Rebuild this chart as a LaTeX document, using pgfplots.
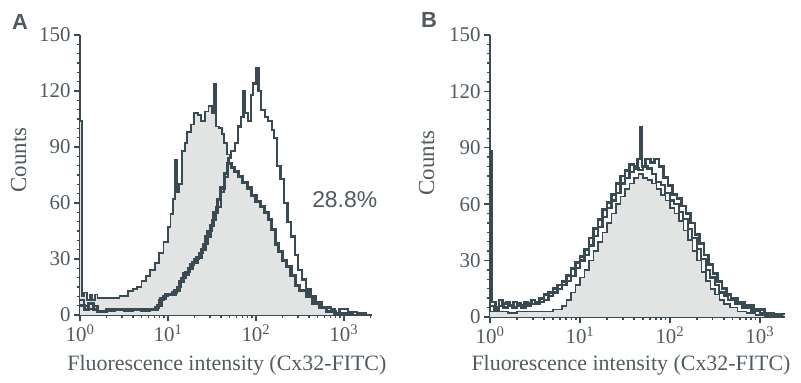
\documentclass[border=0pt]{standalone}
\usepackage{fontspec}
\setmainfont{Liberation Serif}
\newfontfamily\arialfont{Liberation Sans}
\usepackage{pgfplots}
\pgfplotsset{compat=1.18}
\usepackage{pgfplotstable}
\definecolor{linec}{RGB}{58,74,82}
\definecolor{txtc}{RGB}{80,90,95}
\definecolor{fillc}{RGB}{226,228,227}

% ---------- Panel A ----------
\pgfplotstableread{
L c
0.00 104
0.02 10
0.05 12
0.08 8
0.11 11
0.14 8
0.17 11
0.20 9
0.25 9
0.30 9
0.35 9
0.40 9
0.45 10
0.50 10
0.55 13
0.60 14
0.65 15
0.70 18
0.75 21
0.80 24
0.85 28
0.90 33
0.95 39
1.00 47
1.03 54
1.06 62
1.08 83
1.10 66
1.13 70
1.16 88
1.19 92
1.22 98
1.26 102
1.30 108
1.34 107
1.38 104
1.42 109
1.46 112
1.50 108
1.52 124
1.55 101
1.58 100
1.61 97
1.64 92
1.67 86
1.70 78
1.75 64
1.80 50
1.85 38
1.90 28
2.00 15
2.10 7
2.20 3
2.35 1
2.50 0
}\HA

\pgfplotstableread{
L c
0.00 5
0.05 3
0.10 6
0.15 3
0.20 2
0.30 3
0.40 3
0.50 3
0.60 3
0.70 3
0.80 3
0.88 5
0.92 9
0.97 11
1.03 11
1.08 13
1.13 18
1.18 22
1.23 25
1.28 28
1.33 31
1.38 35
1.43 42
1.48 48
1.52 55
1.56 62
1.60 68
1.64 76
1.68 81
1.72 79
1.76 77
1.80 74
1.85 71
1.90 68
1.95 64
2.00 61
2.05 58
2.10 55
2.14 51
2.18 46
2.22 38
2.26 34
2.30 29
2.35 26
2.40 21
2.45 16
2.50 13
2.58 10
2.65 6
2.72 4
2.80 2
2.90 1
3.00 0.5
3.10 0
}\HB

\pgfplotstableread{
L c
0.00 8
0.05 5
0.10 3
0.15 5
0.20 2
0.30 2
0.40 3
0.50 2
0.60 3
0.70 2
0.80 3
0.85 4
0.90 8
0.95 10
1.00 11
1.05 12
1.10 15
1.15 20
1.20 23
1.25 27
1.30 30
1.35 33
1.40 38
1.45 45
1.50 51
1.55 58
1.60 66
1.64 74
1.68 84
1.72 88
1.76 92
1.80 101
1.83 106
1.86 120
1.88 108
1.91 104
1.94 118
1.97 124
2.00 132
2.03 120
2.06 110
2.10 106
2.14 104
2.18 99
2.21 95
2.24 80
2.28 73
2.32 60
2.36 50
2.40 42
2.44 32
2.48 24
2.52 19
2.57 14
2.62 10
2.68 7
2.75 4
2.85 3
2.90 1
2.95 3
3.05 1.5
3.15 1
3.25 0.5
}\HC

% ---------- Panel B ----------
\pgfplotstableread{
L c
0.00 3
0.10 3
0.20 2
0.30 3
0.40 3
0.50 3
0.60 3
0.70 4
0.80 6
0.85 9
0.90 13
0.95 17
1.00 21
1.05 25
1.10 30
1.15 35
1.20 40
1.25 45
1.30 50
1.35 55
1.40 60
1.45 64
1.50 68
1.55 71
1.60 74
1.65 76
1.70 74
1.75 73
1.80 71
1.85 68
1.90 65
1.95 62
2.00 58
2.05 55
2.10 51
2.15 46
2.20 41
2.25 35
2.30 30
2.35 24
2.40 19
2.45 15
2.50 12
2.55 9
2.60 7
2.67 5
2.75 3
2.85 2
2.95 1
3.05 0.5
3.15 0
}\BF

\pgfplotstableread{
L c
0.00 88
0.02 8
0.06 5
0.10 9
0.14 7
0.18 8
0.22 6
0.26 8
0.30 7
0.34 6
0.38 8
0.42 7
0.46 9
0.50 8
0.55 10
0.60 12
0.65 13
0.70 15
0.75 17
0.80 19
0.85 22
0.90 26
0.95 29
1.00 32
1.05 36
1.10 42
1.15 47
1.20 52
1.25 57
1.30 61
1.35 65
1.40 71
1.45 75
1.50 78
1.55 81
1.60 80
1.64 84
1.67 101
1.69 80
1.73 84
1.78 82
1.83 84
1.88 80
1.93 74
1.98 70
2.03 65
2.08 63
2.13 59
2.18 55
2.23 50
2.28 44
2.33 39
2.38 33
2.43 28
2.48 23
2.53 19
2.58 15
2.63 12
2.68 10
2.75 8
2.83 6
2.93 4
3.05 2
3.15 1.5
3.26 1
}\BOa

\pgfplotstableread{
L c
0.00 6
0.05 4
0.10 6
0.15 5
0.20 6
0.25 5
0.30 6
0.35 5
0.40 6
0.45 7
0.50 7
0.55 8
0.60 9
0.65 11
0.70 13
0.75 15
0.80 17
0.85 19
0.90 22
0.95 26
1.00 30
1.05 33
1.10 38
1.15 43
1.20 48
1.25 53
1.30 58
1.35 62
1.40 66
1.45 71
1.50 74
1.55 77
1.60 79
1.65 78
1.70 80
1.75 79
1.80 76
1.85 72
1.90 70
1.95 66
2.00 62
2.05 60
2.10 56
2.15 52
2.20 47
2.25 42
2.30 36
2.35 31
2.40 25
2.45 21
2.50 17
2.55 13
2.60 11
2.65 9
2.72 7
2.80 5
2.90 3
3.00 2
3.12 1
3.25 0.5
}\BOb

\pgfplotsset{
  flowaxis/.style={
    scale only axis,
    anchor=south west,
    clip mode=individual,
    axis x line*=bottom,
    axis y line*=left,
    axis line style={linec, line width=2.4bp},
    ymin=0, ymax=150,
    ytick={0,30,60,90,120,150},
    minor y tick num=5,
    xtick={0,1,2,3},
    xticklabels={10\textsuperscript{0},10\textsuperscript{1},10\textsuperscript{2},10\textsuperscript{3}},
    minor xtick={0.301,0.477,0.602,0.699,0.778,0.845,0.903,0.954,
                 1.301,1.477,1.602,1.699,1.778,1.845,1.903,1.954,
                 2.301,2.477,2.602,2.699,2.778,2.845,2.903,2.954,3.301},
    tick align=outside,
    major tick length=6bp,
    minor tick length=3bp,
    tick style={linec, line width=1.4bp},
    ticklabel style={font=\fontsize{21}{21}\selectfont, text=txtc},
    /pgf/number format/assume math mode=true,
    label style={font=\fontsize{22}{22}\selectfont, text=txtc},
    ylabel style={font=\fontsize{23}{23}\selectfont},
    xlabel={Fluorescence intensity (Cx32-FITC)},
    ylabel={Counts},
    const plot,
  }
}

\begin{document}
\begin{tikzpicture}
\useasboundingbox (0,0) rectangle (801bp,383bp);

% Panel A
\begin{axis}[flowaxis,
  at={(80bp,68bp)}, width=292bp, height=280bp,
  xmin=0, xmax=3.32,
  xlabel style={at={(axis description cs:0.503,-0.18)}, anchor=center},
  ylabel style={at={(axis description cs:-0.21,0.553)}, anchor=center},
]
\addplot[fill=fillc, draw=none] table[x=L,y=c] {\HA} \closedcycle;
\addplot[linec, line width=1.8bp] table[x=L,y=c] {\HA};
\addplot[fill=fillc, draw=none] table[x=L,y=c] {\HB} \closedcycle;
\addplot[linec, line width=3.2bp] table[x=L,y=c] {\HB};
\addplot[linec, line width=2.2bp] table[x=L,y=c] {\HC};
\node[font=\arialfont\fontsize{23}{23}\selectfont, text=txtc] at (axis cs:3.01,62) {28.8\%};
\end{axis}
\node[font=\arialfont\bfseries\fontsize{22}{22}\selectfont, text=txtc] at (20bp,361bp) {A};

% Panel B
\begin{axis}[flowaxis,
  at={(490bp,66bp)}, width=295bp, height=282bp,
  xmin=0, xmax=3.28,
  xlabel style={at={(axis description cs:0.478,-0.17)}, anchor=center},
  ylabel style={at={(axis description cs:-0.215,0.546)}, anchor=center},
]
\addplot[fill=fillc, draw=none] table[x=L,y=c] {\BF} \closedcycle;
\addplot[linec, line width=1.6bp] table[x=L,y=c] {\BF};
\addplot[linec, line width=2.2bp] table[x=L,y=c] {\BOb};
\addplot[linec, line width=2.8bp] table[x=L,y=c] {\BOa};
\end{axis}
\node[font=\arialfont\bfseries\fontsize{22}{22}\selectfont, text=txtc] at (429bp,363bp) {B};
\end{tikzpicture}
\end{document}
